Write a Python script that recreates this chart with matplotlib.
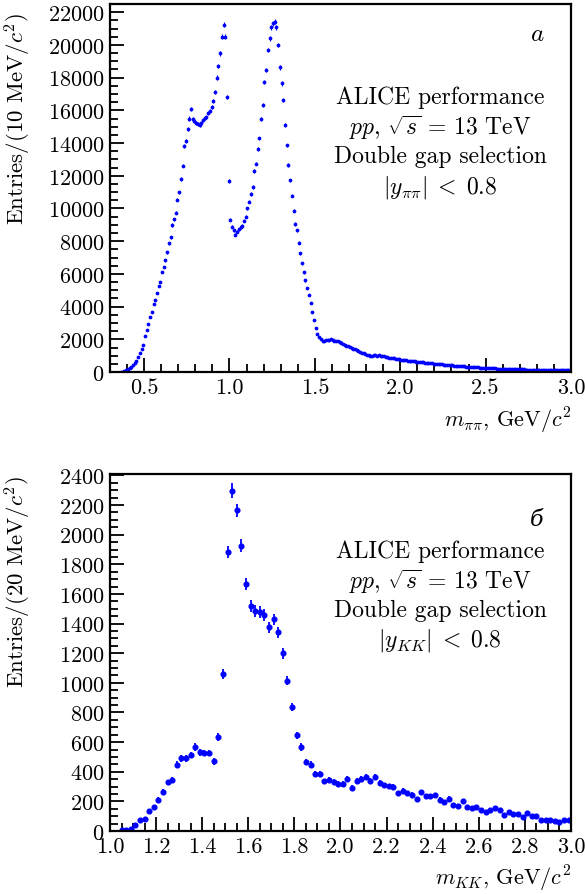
import numpy as np
import matplotlib
matplotlib.use("Agg")
import matplotlib.pyplot as plt
from matplotlib.ticker import MultipleLocator, FormatStrFormatter

plt.rcParams['font.family'] = 'serif'
plt.rcParams['font.serif'] = ['cmr10']
plt.rcParams['mathtext.fontset'] = 'cm'
plt.rcParams['axes.formatter.use_mathtext'] = True

# pi pi invariant mass, 10 MeV bins starting at 0.365 GeV
pipi_start = 0.365
pipi_counts = [
    10, 30, 60, 110, 170, 230, 300, 400, 530, 700,
    920, 1150, 1400, 1650,
    2230, 2540, 2950, 3360, 3670, 4180, 4420, 4850, 5260, 5510,
    6120, 6430, 6840, 7310, 7860, 8230, 8990, 9340, 9750, 10530,
    10980, 11800, 12620, 13800, 14110, 14830, 15500, 16060, 15440, 15340,
    15240, 15140, 15090, 15240, 15380, 15540, 15610, 15850, 15950, 16200,
    16570, 17140, 18000, 18720, 19480, 20500, 21240, 20500, 16830, 11690,
    9300, 8890, 8680, 8380, 8580, 8730, 8850, 8930, 9240, 9500,
    10020, 10420, 10880, 11300, 12310, 12740, 13660, 14280, 15480, 16320,
    17740, 18470, 19700, 20400, 21070, 21320, 21420, 21070, 19990, 18620,
    17650, 16630, 15090, 13850, 12640, 11720, 10790, 9870, 9050, 8680,
    7900, 7250,
    6650, 6100, 5600, 5150, 4700, 4200, 3700, 3200, 2700, 2350,
    2120, 1990, 1900, 1870, 1930, 1980, 1950, 2000, 1960, 1920,
    1900, 1880, 1820, 1790, 1720, 1680, 1620, 1570, 1520, 1470,
    1420, 1380, 1320, 1290, 1230, 1180, 1140, 1100, 1060, 1030,
    1010, 1000, 1020, 1040, 1010, 1030, 990, 980, 950, 930,
    900, 880, 860, 840, 830, 800, 790, 780, 760, 740,
    730, 710, 700, 690, 670, 660, 650, 630, 620, 610,
    600, 590, 580, 570, 560, 545, 540, 520, 510, 500,
    490, 480, 470, 460, 450, 440, 430, 415, 400, 395,
    385, 375, 365, 355, 350, 340, 330, 320, 315, 305,
    300, 295, 285, 280, 275, 265, 260, 250, 245, 240,
    235, 230, 225, 220, 215, 210, 205, 200, 200, 195,
    190, 185, 185, 180, 175, 175, 170, 165, 165, 160,
    160, 155, 155, 150, 150, 145, 145, 140, 140, 135,
    135, 130, 130, 130, 125, 125, 120, 120, 120, 115,
    115, 115, 110, 110, 110, 105, 105, 100,
]

# K K invariant mass, 20 MeV bins
kk_mass = [
    1.05, 1.07, 1.09, 1.11, 1.13, 1.15, 1.17, 1.19, 1.21, 1.23,
    1.25, 1.27, 1.29, 1.31, 1.33, 1.35, 1.37, 1.39, 1.41, 1.43,
    1.45, 1.47, 1.49, 1.51, 1.53, 1.55, 1.57, 1.59, 1.61, 1.63,
    1.65, 1.67, 1.69, 1.71, 1.73, 1.75, 1.77, 1.79, 1.81, 1.83,
    1.85, 1.87, 1.89, 1.91, 1.93, 1.95, 1.97, 1.99, 2.01, 2.03,
    2.05, 2.07, 2.09, 2.11, 2.13, 2.15, 2.17, 2.19, 2.21, 2.23,
    2.25, 2.27, 2.29, 2.31, 2.33, 2.35, 2.37, 2.39, 2.41, 2.43,
    2.45, 2.47, 2.49, 2.51, 2.53, 2.55, 2.57, 2.59, 2.61, 2.63,
    2.65, 2.67, 2.69, 2.71, 2.73, 2.75, 2.77, 2.79, 2.81, 2.83,
    2.85, 2.87, 2.89, 2.91, 2.93, 2.95, 2.97, 2.99,
]
kk_counts = [
    5, 8, 15, 42, 71, 84, 138, 163, 212, 264,
    329, 347, 448, 490, 490, 513, 567, 530, 526, 526,
    470, 634, 1060, 1883, 2298, 2164, 1926, 1666, 1520, 1484,
    1479, 1457, 1374, 1428, 1341, 1199, 1015, 836, 645, 567,
    466, 448, 387, 387, 335, 347, 331, 318, 318, 353,
    291, 340, 351, 365, 340, 365, 324, 308, 301, 297,
    257, 272, 257, 246, 217, 261, 234, 234, 241, 212,
    196, 219, 178, 172, 201, 160, 153, 163, 140, 129,
    140, 156, 145, 111, 127, 116, 116, 93, 122, 104,
    104, 73, 77, 77, 66, 62, 71, 73,
]

pipi_mass = pipi_start + 0.01 * np.arange(len(pipi_counts))
pipi_counts = np.array(pipi_counts, dtype=float)
kk_counts = np.array(kk_counts, dtype=float)

fig = plt.figure(figsize=(5.85, 8.95), dpi=100)
ax1 = fig.add_axes([0.188, 0.5832, 0.788, 0.4112])
ax2 = fig.add_axes([0.188, 0.0704, 0.788, 0.3989])

blue = (0, 0, 1)

ax1.errorbar(pipi_mass, pipi_counts, yerr=np.sqrt(pipi_counts), fmt='o',
             color=blue, ms=1.7, elinewidth=0.8, capsize=0)
ax2.errorbar(kk_mass, kk_counts, yerr=np.sqrt(kk_counts), fmt='o',
             color=blue, ms=3.4, elinewidth=1.3, capsize=0)

ax1.set_xlim(0.3, 3.0)
ax1.set_ylim(0, 22500)
ax1.xaxis.set_major_locator(MultipleLocator(0.5))
ax1.xaxis.set_minor_locator(MultipleLocator(0.1))
ax1.yaxis.set_major_locator(MultipleLocator(2000))
ax1.yaxis.set_minor_locator(MultipleLocator(500))
ax1.xaxis.set_major_formatter(FormatStrFormatter('%.1f'))

ax2.set_xlim(1.0, 3.0)
ax2.set_ylim(0, 2410)
ax2.xaxis.set_major_locator(MultipleLocator(0.2))
ax2.xaxis.set_minor_locator(MultipleLocator(0.05))
ax2.yaxis.set_major_locator(MultipleLocator(200))
ax2.yaxis.set_minor_locator(MultipleLocator(50))
ax2.xaxis.set_major_formatter(FormatStrFormatter('%.1f'))

for ax in (ax1, ax2):
    for sp in ax.spines.values():
        sp.set_linewidth(1.6)
    ax.tick_params(which='both', direction='in', top=False, right=False,
                   labelsize=16, width=1.3)
    ax.tick_params(which='major', length=10, pad=4)
    ax.tick_params(which='minor', length=6)

# axis titles, ROOT style: y title at the top end, x title at the right end
fig.text(18 / 585, 1 - 13 / 895, r'Entries/(10 MeV/$c^2$)', rotation=90,
         ha='center', va='top', fontsize=16.5)
fig.text(18 / 585, 1 - 476 / 895, r'Entries/(20 MeV/$c^2$)', rotation=90,
         ha='center', va='top', fontsize=16.5)
fig.text(571 / 585, 1 - 421 / 895, r'$m_{\pi\pi}$, GeV/$c^2$',
         ha='right', va='center', fontsize=16)
fig.text(571 / 585, 1 - 879 / 895, r'$m_{KK}$, GeV/$c^2$',
         ha='right', va='center', fontsize=16)

lines1 = ['ALICE performance', r'$pp$, $\sqrt{s}$ = 13 TeV',
          'Double gap selection', r'$|y_{\pi\pi}|\;<\;0.8$']
ys1 = [0.747, 0.666, 0.587, 0.505]
for t, y in zip(lines1, ys1):
    ax1.text(0.716, y, t, transform=ax1.transAxes, ha='center', va='center', fontsize=17)
ax1.text(0.926, 0.918, r'$a$', transform=ax1.transAxes, ha='center', va='center',
         fontsize=18)

lines2 = ['ALICE performance', r'$pp$, $\sqrt{s}$ = 13 TeV',
          'Double gap selection', r'$|y_{KK}|\;<\;0.8$']
ys2 = [0.784, 0.700, 0.619, 0.535]
for t, y in zip(lines2, ys2):
    ax2.text(0.716, y, t, transform=ax2.transAxes, ha='center', va='center', fontsize=17)
ax2.text(0.926, 0.874, 'б', transform=ax2.transAxes, ha='center', va='center',
         fontsize=16, family='DejaVu Serif', style='italic')

fig.savefig('out.png', dpi=100)
